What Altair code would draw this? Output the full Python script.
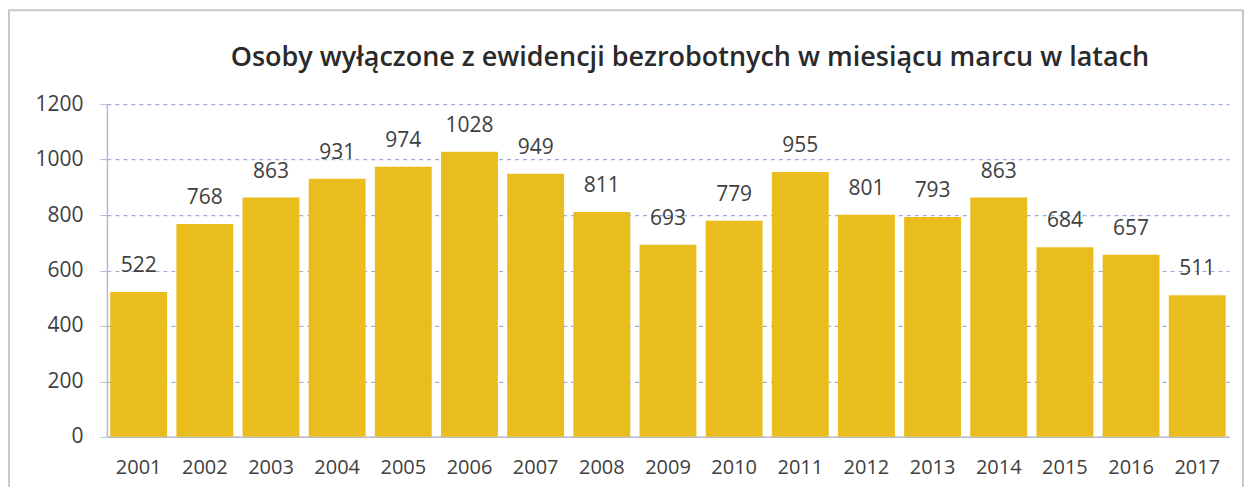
import altair as alt
import pandas as pd

years = [str(y) for y in range(2001, 2018)]
values = [522, 768, 863, 931, 974, 1028, 949, 811, 693, 779, 955, 801, 793, 863, 684, 657, 511]
title_text = "Osoby wyłączone z ewidencji bezrobotnych w miesiącu marcu w latach"
y_ticks = [0, 200, 400, 600, 800, 1000, 1200]

df = pd.DataFrame({"year": years, "value": values})

base = alt.Chart(df)

x_enc = alt.X("year:N", sort=years,
              scale=alt.Scale(paddingInner=0.14, paddingOuter=0.05),
              axis=alt.Axis(title=None, labelAngle=0, labelFontSize=20, labelColor="#404040",
                            labelFont="Open Sans", ticks=False, domainColor="#b4bccc",
                            domainWidth=1.5, labelPadding=21))
y_enc = alt.Y("value:Q", scale=alt.Scale(domain=[0, 1200]),
              axis=alt.Axis(title=None, values=y_ticks, format="d", labelFontSize=21,
                            labelColor="#404040",
                            labelFont="Open Sans", grid=True, gridDash=[4, 4], gridColor="#9aaed8",
                            gridWidth=1.2, domainColor="#b4bccc", domainWidth=1.5,
                            tickColor="#b4bccc", tickSize=7, labelPadding=17))

bars = base.mark_bar(color="#EABD1E").encode(x=x_enc, y=y_enc)

labels = base.mark_text(dy=-26, fontSize=21, color="#404040", font="Open Sans").encode(
    x=alt.X("year:N", sort=years), y="value:Q", text="value:Q")

frame = alt.Chart(pd.DataFrame({"a": [0]})).mark_rect(
    fill=None, stroke="#c8c8c8", strokeWidth=2, clip=False).encode(
    x=alt.value(-98), x2=alt.value(1137), y=alt.value(-94), y2=alt.value(400))

chart = alt.layer(bars, labels, frame).properties(
    width=1123, height=333,
    autosize=alt.AutoSizeParams(type="none"),
    padding={"left": 99, "top": 96, "right": 16, "bottom": 50},
    title=alt.Title(title_text, fontSize=27, fontWeight=600, font="Open Sans",
                    color="#2a2a2a", anchor="middle", offset=-63, dx=22, frame="group"),
).configure_view(stroke=None)

chart.save("out.html", embed_options={"renderer": "svg", "actions": False})
